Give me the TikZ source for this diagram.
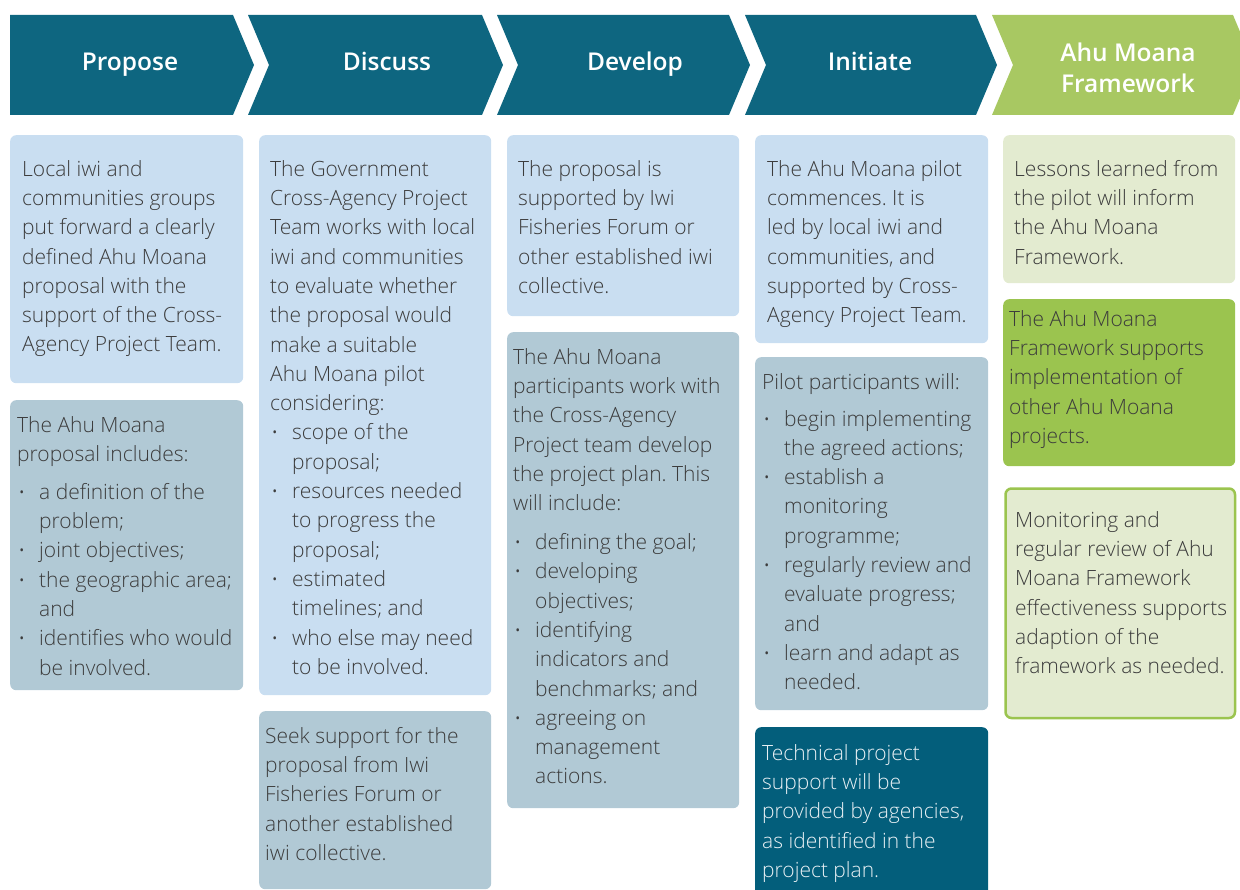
\documentclass[tikz,border=0pt]{standalone}
\usepackage{fontspec}
\IfFontExistsTF{Open Sans Light}
  {\newfontfamily\bodyfam{Open Sans Light}}
  {\newfontfamily\bodyfam{Open Sans}}
\IfFontExistsTF{Open Sans Semibold}
  {\newfontfamily\headfam{Open Sans Semibold}\let\headwt\relax}
  {\IfFontExistsTF{Open Sans SemiBold}
     {\newfontfamily\headfam{Open Sans SemiBold}\let\headwt\relax}
     {\newfontfamily\headfam{Open Sans}\let\headwt\bfseries}}

\definecolor{stageteal}{HTML}{0E6680}
\definecolor{stagegreen}{HTML}{A8C862}
\definecolor{paleblue}{HTML}{C9DEF1}
\definecolor{greyblue}{HTML}{B1C9D5}
\definecolor{deepteal}{HTML}{035E7B}
\definecolor{palegreen}{HTML}{E3EBD0}
\definecolor{leafgreen}{HTML}{9BC44F}
\definecolor{ink}{HTML}{3C3C3C}
\definecolor{lightink}{HTML}{E8F0F4}

\frenchspacing
% first-line strut: baseline sits 20pt below the top of a text node
\newcommand{\fl}{\rule{0pt}{20pt}}
% bullet item and continuation indent
\newcommand{\itm}{\hspace*{1.5pt}\makebox[20.5pt][l]{\raisebox{1pt}{\fontsize{17}{17}\selectfont •}}}
\newcommand{\cnt}{\hspace*{22pt}}

\tikzset{
  stagehead/.style={text=white, align=center, inner sep=0pt,
    font={\headfam\headwt\fontsize{24.5}{31}\selectfont}},
  card/.style={rounded corners=6pt, inner sep=0pt, anchor=north west},
  txt/.style={anchor=north west, inner sep=0pt, align=left, text=ink,
    font={\bodyfam\fontsize{21}{29.3}\selectfont}},
}

\begin{document}
\begin{tikzpicture}[x=1pt,y=-1pt]
\useasboundingbox (0,0) rectangle (1240,890);
\begin{scope}
\clip (0,0) rectangle (1240,890);

% ---- stage chevrons ----
\fill[stageteal] (10,15) -- (233,15) -- (254,65) -- (233,115) -- (10,115) -- cycle;
\fill[stageteal] (248,15) -- (482,15) -- (503,65) -- (482,115) -- (248,115) -- (269,65) -- cycle;
\fill[stageteal] (497,15) -- (729,15) -- (750,65) -- (729,115) -- (497,115) -- (518,65) -- cycle;
\fill[stageteal] (745,15) -- (976,15) -- (997,65) -- (976,115) -- (745,115) -- (766,65) -- cycle;
\fill[stagegreen] (992,15) -- (1233,15) -- (1254,65) -- (1233,115) -- (992,115) -- (1013,65) -- cycle;

\node[stagehead, anchor=base] (h1) at (130,71) {Propose};
\node[stagehead, anchor=base] (h2) at (387,71) {Discuss};
\node[stagehead, anchor=base] (h3) at (635,71) {Develop};
\node[stagehead, anchor=base] (h4) at (870,71) {Initiate};
\node[stagehead] (h5) at (1128,68) {Ahu Moana\\Framework};

% ---- column 1: Propose ----
\node[card, fill=paleblue, minimum width=233pt, minimum height=248pt] (a1) at (10,135) {};
\node[txt] (a1t) at ([xshift=12pt,yshift=-21pt]a1.north west) {\fl Local iwi and\\
communities groups\\
put forward a clearly\\
defined Ahu Moana\\
proposal with the\\
support of the Cross-\\
Agency Project Team.};

\node[card, fill=greyblue, minimum width=233pt, minimum height=290pt] (a2) at (10,400) {};
\node[txt] (a2t) at ([xshift=7pt,yshift=-12pt]a2.north west) {\fl The Ahu Moana\\
proposal includes:\\[8.5pt]
\itm a definition of the\\
\cnt problem;\\
\itm joint objectives;\\
\itm the geographic area;\\
\cnt and\\
\itm identifies who would\\
\cnt be involved.};

% ---- column 2: Discuss ----
\node[card, fill=paleblue, minimum width=232pt, minimum height=560pt] (b1) at (259,135) {};
\node[txt] (b1t) at ([xshift=11pt,yshift=-21pt]b1.north west) {\fl The Government\\
Cross-Agency Project\\
Team works with local\\
iwi and communities\\
to evaluate whether\\
the proposal would\\
make a suitable\\
Ahu Moana pilot\\
considering:\\
\itm scope of the\\
\cnt proposal;\\
\itm resources needed\\
\cnt to progress the\\
\cnt proposal;\\
\itm estimated\\
\cnt timelines; and\\
\itm who else may need\\
\cnt to be involved.};

\node[card, fill=greyblue, minimum width=232pt, minimum height=178pt] (b2) at (259,711) {};
\node[txt] (b2t) at ([xshift=6pt,yshift=-12pt]b2.north west) {\fl Seek support for the\\
proposal from Iwi\\
Fisheries Forum or\\
another established\\
iwi collective.};

% ---- column 3: Develop ----
\node[card, fill=paleblue, minimum width=232pt, minimum height=181pt] (c1) at (507,135) {};
\node[txt] (c1t) at ([xshift=11pt,yshift=-21pt]c1.north west) {\fl The proposal is\\
supported by Iwi\\
Fisheries Forum or\\
other established iwi\\
collective.};

\node[card, fill=greyblue, minimum width=232pt, minimum height=476pt] (c2) at (507,332) {};
\node[txt] (c2t) at ([xshift=6pt,yshift=-12pt]c2.north west) {\fl The Ahu Moana\\
participants work with\\
the Cross-Agency\\
Project team develop\\
the project plan. This\\
will include:\\[9.5pt]
\itm defining the goal;\\
\itm developing\\
\cnt objectives;\\
\itm identifying\\
\cnt indicators and\\
\cnt benchmarks; and\\
\itm agreeing on\\
\cnt management\\
\cnt actions.};

% ---- column 4: Initiate ----
\node[card, fill=paleblue, minimum width=233pt, minimum height=208pt] (d1) at (755,135) {};
\node[txt] (d1t) at ([xshift=12pt,yshift=-21pt]d1.north west) {\fl The Ahu Moana pilot\\
commences. It is\\
led by local iwi and\\
communities, and\\
supported by Cross-\\
Agency Project Team.};

\node[card, fill=greyblue, minimum width=233pt, minimum height=353pt] (d2) at (755,357) {};
\node[txt] (d2t) at ([xshift=7pt,yshift=-12pt]d2.north west) {\fl Pilot participants will:\\[7.5pt]
\itm begin implementing\\
\cnt the agreed actions;\\
\itm establish a\\
\cnt monitoring\\
\cnt programme;\\
\itm regularly review and\\
\cnt evaluate progress;\\
\cnt and\\
\itm learn and adapt as\\
\cnt needed.};

\node[card, fill=deepteal, minimum width=233pt, minimum height=190pt] (d3) at (755,727) {};
\node[txt, text=lightink] (d3t) at ([xshift=7pt,yshift=-13pt]d3.north west) {\fl Technical project\\
support will be\\
provided by agencies,\\
as identified in the\\
project plan.};

% ---- column 5: Ahu Moana Framework ----
\node[card, fill=palegreen, minimum width=232pt, minimum height=148pt] (e1) at (1003,135) {};
\node[txt] (e1t) at ([xshift=11pt,yshift=-21pt]e1.north west) {\fl Lessons learned from\\
the pilot will inform\\
the Ahu Moana\\
Framework.};

\node[card, fill=leafgreen, minimum width=232pt, minimum height=167pt] (e2) at (1003,299) {};
\node[txt] (e2t) at ([xshift=6pt,yshift=-7pt]e2.north west) {\fl The Ahu Moana\\
Framework supports\\
implementation of\\
other Ahu Moana\\
projects.};

\node[card, fill=palegreen, draw=leafgreen, line width=2.5pt,
      minimum width=229.5pt, minimum height=229.5pt] (e3) at (1004.25,487.25) {};
\node[txt] (e3t) at ([xshift=10.75pt,yshift=-19.75pt]e3.north west) {\fl Monitoring and\\
regular review of Ahu\\
Moana Framework\\
effectiveness supports\\
adaption of the\\
framework as needed.};
\end{scope}
\end{tikzpicture}
\end{document}
